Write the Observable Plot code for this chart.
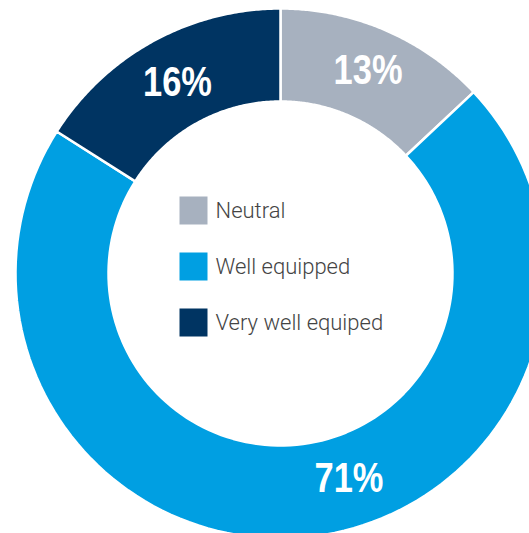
<!DOCTYPE html>
<html>
<head>
<meta charset="utf-8">
<script src="https://cdn.jsdelivr.net/npm/d3@7"></script>
<script src="https://cdn.jsdelivr.net/npm/@observablehq/plot@0.6"></script>
<style>
  html, body { margin: 0; padding: 0; background: #fff; overflow: hidden; }
  svg { display: block; }
</style>
</head>
<body>
<div id="chart"></div>
<script>
// Data
const categories = ["Neutral", "Well equipped", "Very well equiped"];
const values = [13, 71, 16];
const labels = ["13%", "71%", "16%"];
const colors = ["#a7b1bf", "#009fe2", "#003462"];

// Layout (pixels)
const W = 529, H = 533;
const cx = 280, cy = 273, R = 265;
const innerFrac = 172 / 265;
const labelFrac = 218 / 265;

const pie = d3.pie().sort(null).value(d => d.value)(
  categories.map((c, i) => ({cat: c, value: values[i], label: labels[i]}))
);

// Polygon points for each slice (computed from the data angles)
const pts = [];
for (const s of pie) {
  const n = 120;
  for (let k = 0; k <= n; k++) {
    const a = s.startAngle + (s.endAngle - s.startAngle) * k / n;
    pts.push({cat: s.data.cat, x: Math.sin(a), y: Math.cos(a)});
  }
  for (let k = n; k >= 0; k--) {
    const a = s.startAngle + (s.endAngle - s.startAngle) * k / n;
    pts.push({cat: s.data.cat, x: innerFrac * Math.sin(a), y: innerFrac * Math.cos(a)});
  }
}

// label nudges in pixels (style)
const nudge = {"71%": [48, -12], "13%": [1, -3], "16%": [2, 0]};
const labelData = pie.map(s => {
  const m = (s.startAngle + s.endAngle) / 2;
  const [nx, ny] = nudge[s.data.label] || [0, 0];
  return {
    label: s.data.label,
    x: labelFrac * Math.sin(m) + nx / R,
    y: labelFrac * Math.cos(m) - ny / R
  };
});

// legend items
const legendData = categories.map((c, i) => ({
  cat: c,
  y: (cy - (210 + 56 * i)) / R
}));
const legendSquareX = (193 - cx) / R;
const legendTextX = (215 - cx) / R;

const chart = Plot.plot({
  width: W,
  height: H,
  margin: 0,
  style: {overflow: "hidden", background: "#fff"},
  x: {domain: [-1, 1], range: [cx - R, cx + R], axis: null},
  y: {domain: [-1, 1], range: [cy + R, cy - R], axis: null},
  color: {domain: categories, range: colors},
  marks: [
    Plot.line(pts, {x: "x", y: "y", z: "cat", fill: "cat", stroke: "white", strokeWidth: 2.5, curve: "linear-closed"}),
    Plot.text(labelData, {
      x: "x", y: "y", text: "label",
      fill: "white", fontSize: 42, fontWeight: "bold",
      fontFamily: "'Liberation Sans', Arial, sans-serif",
      textAnchor: "middle", lineAnchor: "middle"
    }),
    Plot.dot(legendData, {x: () => legendSquareX, y: "y", symbol: "square", r: 15.8, fill: "cat", stroke: null}),
    Plot.text(legendData, {
      x: () => legendTextX, y: "y", text: "cat",
      textAnchor: "start", lineAnchor: "middle",
      fontSize: 22, fontWeight: 300, fill: "#444",
      fontFamily: "Roboto, 'Liberation Sans', sans-serif"
    })
  ]
});
// condense the percentage labels horizontally
d3.select(chart).selectAll("text")
  .filter(function() { return labels.includes(this.textContent); })
  .attr("transform", function() {
    return (this.getAttribute("transform") || "") + " scale(0.82,1)";
  });
document.getElementById("chart").append(chart);
</script>
</body>
</html>
